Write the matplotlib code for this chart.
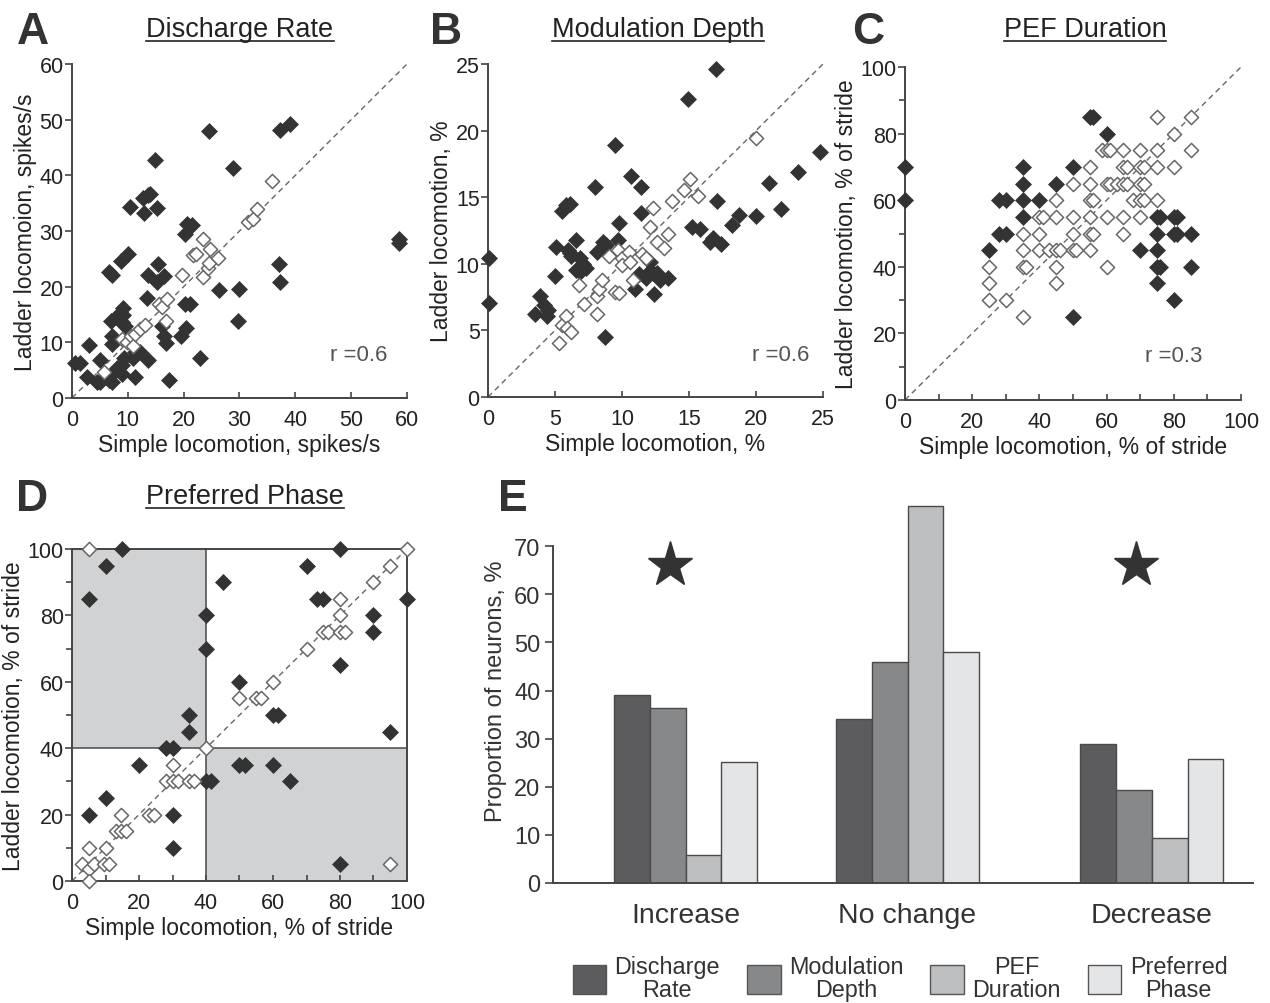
import numpy as np
import matplotlib
matplotlib.use("Agg")
import matplotlib.pyplot as plt
from matplotlib.patches import Patch, Rectangle
from matplotlib.lines import Line2D
from matplotlib.ticker import MultipleLocator

plt.rcParams['font.family'] = ['Liberation Sans', 'DejaVu Sans']

# ---------------- data ----------------
# A: discharge rate (spikes/s)
a_fill_x = [0.6, 1.5, 2.7, 3.1, 4.5, 5.0, 5.0, 6.6, 7.2, 6.6, 7.2, 6.9, 7.2, 7.2, 7.5, 8.1,
            8.8, 9.2, 9.2, 7.8, 8.4, 8.9, 9.5, 9.0, 9.0, 9.3, 10.1, 10.3, 11.0, 11.3, 11.3, 12.2,
            12.8, 13.6, 14.0, 12.9, 13.4, 13.6, 13.6, 14.9, 15.2, 15.4, 15.2, 16.4, 16.1, 16.4,
            16.9, 17.4, 19.5, 20.5, 20.3, 21.2, 20.3, 20.6, 21.5, 23.0, 24.6, 26.4, 28.8, 29.7,
            30.0, 37.1, 37.3, 37.3, 39.0, 58.6, 58.6]
a_fill_y = [6.2, 6.2, 3.8, 9.6, 2.8, 2.8, 6.9, 22.6, 22.1, 3.2, 2.9, 13.9, 11.2, 9.7, 4.7, 5.3,
            24.7, 15.0, 16.1, 14.5, 14.2, 13.6, 13.0, 4.4, 5.9, 7.1, 25.9, 34.4, 7.1, 8.3, 3.8, 8.3,
            35.9, 36.4, 36.7, 33.3, 17.9, 22.1, 6.8, 42.8, 34.1, 24.1, 20.9, 22.0, 13.0, 11.2,
            9.9, 3.2, 11.1, 12.6, 16.9, 16.9, 29.5, 31.2, 31.0, 7.1, 48.0, 19.4, 41.4, 13.9,
            19.6, 24.1, 20.9, 48.1, 49.3, 28.6, 27.8]
a_open_x = [5.7, 9.0, 9.9, 10.6, 11.0, 11.3, 12.2, 13.1, 15.5, 16.2, 17.0, 16.8, 19.7, 21.6,
            22.2, 23.4, 23.4, 24.4, 24.5, 24.8, 26.1, 31.5, 32.4, 33.1, 35.8]
a_open_y = [4.7, 10.6, 10.0, 11.2, 9.3, 11.5, 12.4, 13.2, 16.9, 16.3, 17.8, 13.9, 22.1, 25.6,
            25.9, 28.6, 21.7, 23.3, 24.3, 26.8, 25.1, 31.6, 32.2, 33.9, 38.9]

# B: modulation depth (%)
b_fill_x = [0.1, 0.1, 3.5, 3.9, 4.2, 4.5, 4.4, 5.0, 5.1, 5.5, 5.8, 6.1, 6.0, 6.2, 6.1, 6.6,
            6.9, 7.1, 7.3, 6.6, 6.9, 8.0, 8.1, 8.6, 8.8, 8.7, 9.5, 9.7, 9.8, 10.7, 11.0, 11.4,
            11.4, 12.1, 11.3, 11.8, 12.3, 12.8, 13.4, 12.0, 12.6, 12.4, 14.9, 15.2, 15.8, 16.6,
            16.8, 17.4, 17.0, 17.1, 18.2, 18.7, 20.0, 21.0, 21.9, 23.1, 24.8]
b_fill_y = [10.45, 7.05, 6.25, 7.6, 6.9, 6.5, 6.1, 9.1, 11.25, 14.0, 14.4, 14.5, 11.0, 10.6,
            10.8, 11.75, 10.4, 10.0, 9.7, 9.5, 9.4, 15.8, 10.9, 11.6, 11.4, 4.5, 18.9, 11.75,
            13.1, 16.6, 8.1, 15.8, 13.8, 10.1, 9.2, 8.9, 9.3, 8.8, 8.9, 9.4, 9.3, 7.75, 22.4,
            12.75, 12.6, 11.6, 11.9, 11.5, 24.6, 14.75, 12.9, 13.7, 13.6, 16.1, 14.1, 16.9, 18.4]
b_open_x = [5.3, 5.5, 5.8, 5.9, 6.2, 6.8, 7.2, 8.1, 8.1, 8.3, 8.5, 9.0, 9.5, 9.8, 9.7, 10.0,
            10.0, 10.5, 10.6, 10.8, 11.5, 11.8, 12.1, 12.3, 12.6, 13.1, 13.4, 13.7, 14.6, 15.1,
            15.7, 20.0]
b_open_y = [4.05, 5.4, 6.1, 5.2, 4.9, 8.4, 7.0, 7.6, 6.25, 8.1, 8.8, 10.6, 7.9, 7.8, 11.0, 10.4,
            9.9, 10.9, 10.1, 8.75, 10.75, 10.4, 12.75, 14.2, 11.6, 11.2, 12.2, 14.7, 15.55, 16.4,
            15.1, 19.45]

# C: PEF duration (% of stride)
c_fill_x = [0, 0, 25, 28, 30, 28, 30, 35, 35, 35, 35, 40, 45, 50, 50, 55, 56, 60, 70, 75,
            76, 75, 75, 75, 76, 75, 80, 81, 80, 81, 85, 85, 80]
c_fill_y = [70, 60, 45, 60, 60, 50, 50, 70, 65, 60, 55, 60, 65, 70, 25, 85, 85, 80, 45, 55,
            55, 50, 45, 40, 40, 35, 55, 55, 50, 50, 50, 40, 30]
c_open_x = [25, 25, 25, 30, 35, 35, 35, 36, 35, 40, 41, 40, 40, 43, 45, 46, 45, 45, 45, 45,
            50, 50, 50, 50, 51, 55, 55, 55, 56, 55, 55, 56, 55, 58.5, 60, 61, 60, 61, 60, 60,
            63, 65, 66, 65, 65, 66, 65, 65, 68, 70, 71, 70, 71, 70, 70, 71, 70, 75, 75, 75, 75,
            80, 80, 85, 85]
c_open_y = [40, 35, 30, 30, 50, 45, 40, 40, 25, 55, 55, 50, 45, 45, 45, 45, 60, 55, 40, 35,
            65, 55, 50, 45, 45, 70, 65, 60, 60, 55, 50, 50, 45, 75, 75, 75, 65, 65, 55, 40,
            65, 65, 65, 75, 70, 70, 55, 50, 60, 60, 60, 70, 70, 75, 65, 65, 55, 85, 75, 70, 60,
            80, 70, 85, 75]

# D: preferred phase (% of stride)
d_fill_x = [5, 10, 15, 40, 40, 35, 35, 28, 30, 20, 40, 41.5, 10, 5, 30, 30, 45, 50, 60, 61.5,
            50, 51.5, 60, 65, 70, 73, 75, 80, 80, 90, 90, 100, 95, 80]
d_fill_y = [85, 95, 100, 80, 70, 50, 45, 40, 40, 35, 30, 30, 25, 20, 20, 10, 90, 60, 50, 50,
            35, 35, 35, 30, 95, 85, 85, 100, 65, 80, 75, 85, 45, 5]
d_open_x = [5, 100, 95, 90, 80, 80, 75, 76.5, 80, 81.5, 70, 60, 55, 56.5, 50, 40, 30, 28, 30,
            31.5, 35, 36.5, 23, 24.5, 14.5, 13, 14.5, 16, 5, 10, 3, 5, 6.5, 9.5, 11, 5, 95]
d_open_y = [100, 100, 95, 90, 85, 80, 75, 75, 75, 75, 70, 60, 55, 55, 55, 40, 35, 30, 30,
            30, 30, 30, 20, 20, 20, 15, 15, 15, 10, 10, 5, 3.7, 5, 5, 5, 0, 5]
phase_split = 40

# E: proportion of neurons (%)
e_groups = ['Increase', 'No change', 'Decrease']
e_group_pos = [0, 1, 2.1]
e_series = ['Discharge\nRate', 'Modulation\nDepth', 'PEF\nDuration', 'Preferred\nPhase']
e_values = [[39.0, 34.1, 28.8],   # discharge rate
            [36.4, 45.9, 19.4],   # modulation depth
            [5.8, 78.3, 9.3],     # PEF duration
            [25.2, 48.0, 25.8]]   # preferred phase
e_star_groups = [0, 2]
e_star_level = 66

# ---------------- styling ----------------
W, H = 1270, 1004
DARK = '#333333'
SPINE = '#444444'
OPEN_EDGE = '#666666'
bar_colors = ['#5c5c5e', '#87888a', '#bdbec0', '#e4e5e6']
TICK_FS = 15.5
LABEL_FS = 16.5


def px_axes(fig, x0, y0, x1, y1):
    return fig.add_axes([x0 / W, 1 - y1 / H, (x1 - x0) / W, (y1 - y0) / H])


def fig_text(fig, x, y, s, **kw):
    return fig.text(x / W, 1 - y / H, s, **kw)


def underlined_title(fig, x, y, s, size=19.5):
    t = fig_text(fig, x, y, s, ha='center', va='center', fontsize=size, color='#222222')
    r = fig.canvas.get_renderer()
    bb = t.get_window_extent(renderer=r)
    yl = bb.y0 + 1
    fig.add_artist(Line2D([bb.x0 / W, bb.x1 / W], [yl / H, yl / H], color='#222222',
                          lw=1.2, transform=fig.transFigure))


def style_scatter_axes(ax, lim, major, minor=None, frame=False):
    ax.set_xlim(0, lim)
    ax.set_ylim(0, lim)
    for s in ['top', 'right']:
        ax.spines[s].set_visible(frame)
    for s in ax.spines.values():
        s.set_color(SPINE)
        s.set_linewidth(1.4)
    ax.xaxis.set_major_locator(MultipleLocator(major))
    ax.yaxis.set_major_locator(MultipleLocator(major))
    if minor:
        ax.xaxis.set_minor_locator(MultipleLocator(minor))
        ax.yaxis.set_minor_locator(MultipleLocator(minor))
    ax.tick_params(axis='y', direction='out', length=5, width=1.2, color=SPINE,
                   labelsize=TICK_FS, pad=1, which='both', labelcolor='#222222')
    ax.tick_params(axis='y', which='minor', length=4)
    ax.tick_params(axis='x', direction='in', length=4, width=1.2, color=SPINE,
                   labelsize=TICK_FS, pad=8, which='both', labelcolor='#222222')
    ax.plot([0, lim], [0, lim], ls=(0, (4, 3)), color='#666666', lw=1, zorder=1)
    ax.set_facecolor('none')


def diamonds(ax, fx, fy, ox, oy):
    ax.scatter(fx, fy, marker='D', s=66, color=DARK, edgecolors=DARK, linewidths=0.5,
               zorder=3, clip_on=False)
    ax.scatter(ox, oy, marker='D', s=52, facecolors='white', edgecolors=OPEN_EDGE,
               linewidths=1.1, zorder=4, clip_on=False)


def axis_labels(ax, xl, yl):
    ax.set_xlabel(xl, fontsize=LABEL_FS, labelpad=2, color='#222222')
    ax.set_ylabel(yl, fontsize=LABEL_FS, labelpad=2, color='#222222')


fig = plt.figure(figsize=(W / 100, H / 100), dpi=100)

# ---- A ----
axA = px_axes(fig, 72, 65, 407, 399)
style_scatter_axes(axA, 60, 10)
diamonds(axA, a_fill_x, a_fill_y, a_open_x, a_open_y)
axA.text(46.2, 7.9, 'r =0.6', fontsize=16, color='#555555', va='center')
axis_labels(axA, 'Simple locomotion, spikes/s', 'Ladder locomoion, spikes/s')

# ---- B ----
axB = px_axes(fig, 488, 65, 823, 398)
style_scatter_axes(axB, 25, 5)
diamonds(axB, b_fill_x, b_fill_y, b_open_x, b_open_y)
axB.text(19.7, 3.2, 'r =0.6', fontsize=16, color='#555555', va='center')
axis_labels(axB, 'Simple locomotion, %', 'Ladder locomotion, %')

# ---- C ----
axC = px_axes(fig, 905, 68, 1241, 401)
style_scatter_axes(axC, 100, 20, 10)
diamonds(axC, c_fill_x, c_fill_y, c_open_x, c_open_y)
axC.text(71.4, 13.5, 'r =0.3', fontsize=16, color='#555555', va='center')
axis_labels(axC, 'Simple locomotion, % of stride', 'Ladder locomotion, % of stride')

# ---- D ----
axD = px_axes(fig, 72, 550, 407, 882)
style_scatter_axes(axD, 100, 20, 10, frame=True)
axD.add_patch(Rectangle((0, phase_split), phase_split, 100 - phase_split,
                        facecolor='#d1d2d4', edgecolor='none', zorder=0))
axD.add_patch(Rectangle((phase_split, 0), 100 - phase_split, phase_split,
                        facecolor='#d1d2d4', edgecolor='none', zorder=0))
axD.axvline(phase_split, color='#555555', lw=1.2, zorder=1)
axD.axhline(phase_split, color='#555555', lw=1.2, zorder=1)
diamonds(axD, d_fill_x, d_fill_y, d_open_x, d_open_y)
axis_labels(axD, 'Simple locomotion, % of stride', 'Ladder locomotion, % of stride')

# ---- E ----
axE = px_axes(fig, 553, 499, 1253, 884)
bw = 0.161
for i, (vals, col) in enumerate(zip(e_values, bar_colors)):
    xs = [p + (i - 1.5) * bw for p in e_group_pos]
    axE.bar(xs, vals, width=bw, color=col, edgecolor='#4a4a4a', linewidth=1.0,
            label=e_series[i], zorder=2)
for g in e_star_groups:
    axE.plot(e_group_pos[g] - 0.07, e_star_level, marker='*', ms=34, color=DARK,
             mec=DARK, ls='none')
axE.set_xlim(-0.597, 2.556)
axE.set_ylim(0, 80)
axE.spines['top'].set_visible(False)
axE.spines['right'].set_visible(False)
axE.spines['left'].set_bounds(0, 70)
for s in ['left', 'bottom']:
    axE.spines[s].set_color(SPINE)
    axE.spines[s].set_linewidth(1.4)
axE.set_yticks(range(0, 71, 10))
axE.tick_params(axis='y', direction='out', length=6, width=1.2, color=SPINE, labelsize=17,
                labelcolor='#333333', pad=3)
axE.set_xticks(e_group_pos)
axE.set_xticklabels(e_groups, fontsize=20.5, color='#333333')
axE.tick_params(axis='x', length=0, pad=14)
axE.set_ylabel('Proportion of neurons, %', fontsize=17, labelpad=5, color='#333333')

handles = [Patch(facecolor=c, edgecolor='#555555', linewidth=1.0) for c in bar_colors]
leg = fig.legend(handles, e_series, loc='center', bbox_to_anchor=(900 / W, 1 - 979 / H),
                 ncol=4, frameon=False, fontsize=16.8, handlelength=1.45, handleheight=1.5,
                 handletextpad=0.35, columnspacing=1.15)
for t in leg.get_texts():
    t.set_multialignment('center')
    t.set_linespacing(0.95)
    t.set_color('#333333')

# ---- titles and panel letters ----
for x, y, s in [(240, 30, 'Discharge Rate'), (658, 30, 'Modulation Depth'),
                (1085, 30, 'PEF Duration'), (245, 497, 'Preferred Phase')]:
    underlined_title(fig, x, y, s)
for x, y, s in [(33, 33, 'A'), (446, 33, 'B'), (868, 33, 'C'), (32, 500, 'D'), (513, 500, 'E')]:
    fig_text(fig, x, y, s, ha='center', va='center', fontsize=32, fontweight='bold',
             color='#333333')

fig.savefig('out.png', dpi=100)
